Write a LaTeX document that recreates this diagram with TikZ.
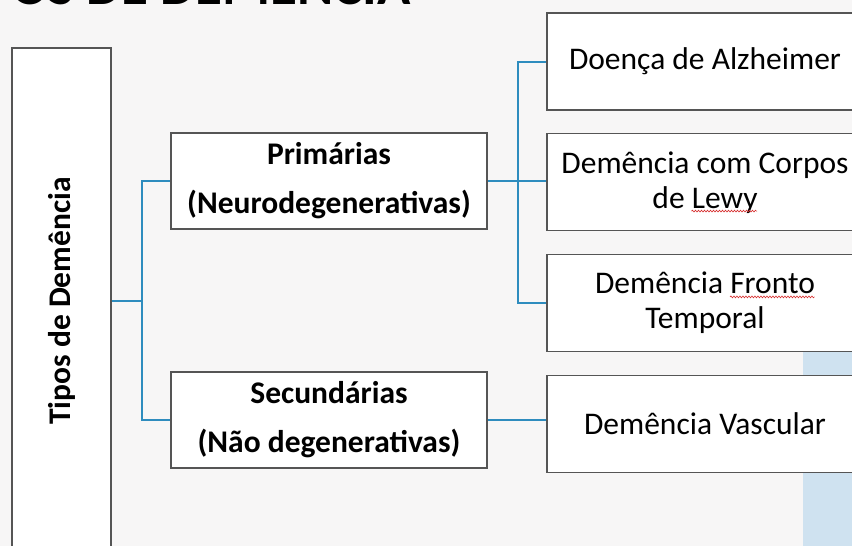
\documentclass[tikz,border=0pt]{standalone}
\usepackage{fontspec}
\setmainfont{Carlito}
\usetikzlibrary{positioning,decorations.pathmorphing}

\definecolor{slidebg}{RGB}{247,246,246}
\definecolor{linkblue}{RGB}{46,140,190}
\definecolor{boxedge}{RGB}{85,85,85}
\definecolor{stripblue}{RGB}{207,226,240}
\definecolor{spellred}{RGB}{215,45,45}

% red wavy spell-check mark under a word
\newsavebox{\wordbox}
\newcommand{\spellwave}[1]{\sbox{\wordbox}{#1}\usebox{\wordbox}\llap{\tikz[baseline=0pt, x=1pt, y=1pt]\draw[spellred, line width=0.6pt, decorate, decoration={snake, amplitude=0.9pt, segment length=3pt}] (0,-3) -- (\wd\wordbox,-3);}}

\tikzstyle{block} = [rectangle, draw=boxedge, line width=1.3pt, fill=white, inner sep=0pt, align=center, text=black]
\tikzstyle{leafbox} = [block, minimum width=316pt, minimum height=97pt, font=\fontsize{31.5}{35}\selectfont]
\tikzstyle{midbox} = [block, minimum width=316pt, minimum height=96pt, font=\bfseries\fontsize{31.5}{49}\selectfont]
\tikzstyle{link} = [draw=linkblue, line width=2pt]

\begin{document}
\begin{tikzpicture}[x=1pt, y=-1pt]
        \tikzset{node distance = 22.5pt and 60pt}
        \useasboundingbox (0,0) rectangle (852,546);
        \clip (0,0) rectangle (852,546);
        % slide background
        \fill[slidebg] (0,0) rectangle (852,546);
        \fill[stripblue] (803,345) rectangle (852,546);
        % title, cut by the top edge
        \node (title) at (11,5) [anchor=base west, inner sep=0pt, font=\bfseries\fontsize{55}{60}\selectfont] {OS DE DEMÊNCIA};
        % root box
        \node (tipos) at (61.5,301) [block, minimum width=99pt, minimum height=506pt] {};
        \node (tiposlabel) at (tipos.center) [rotate=90, font=\bfseries\fontsize{31.5}{36}\selectfont] {Tipos de Demência};
        % second level
        \node (prim) at (329,181) [midbox] {Primárias\\(Neurodegenerativas)};
        \node (sec) at (329,420) [midbox] {Secundárias\\(Não degenerativas)};
        % leaves
        \node (alz) at (705,61.5) [leafbox] {Doença de Alzheimer};
        \node (lewy) [leafbox, below=of alz] {Demência com Corpos\\de \spellwave{Lewy}};
        \node (fronto) [leafbox, below=of lewy] {Demência \spellwave{Fronto}\\Temporal};
        \node (vasc) [leafbox, below=of fronto] {Demência Vascular};
        % connectors
        \coordinate (rootfork) at ([xshift=30pt]tipos.east);
        \draw[link] (tipos.east) -- (rootfork);
        \draw[link] (rootfork) |- (prim.west);
        \draw[link] (rootfork) |- (sec.west);
        \coordinate (primfork) at ([xshift=30pt]prim.east);
        \draw[link] (prim.east) -- (prim.east -| lewy.west);
        \draw[link] (primfork) |- (alz.west);
        \draw[link] (primfork) |- (fronto.west);
        \draw[link] (sec.east) -- (sec.east -| vasc.west);
\end{tikzpicture}
\end{document}
